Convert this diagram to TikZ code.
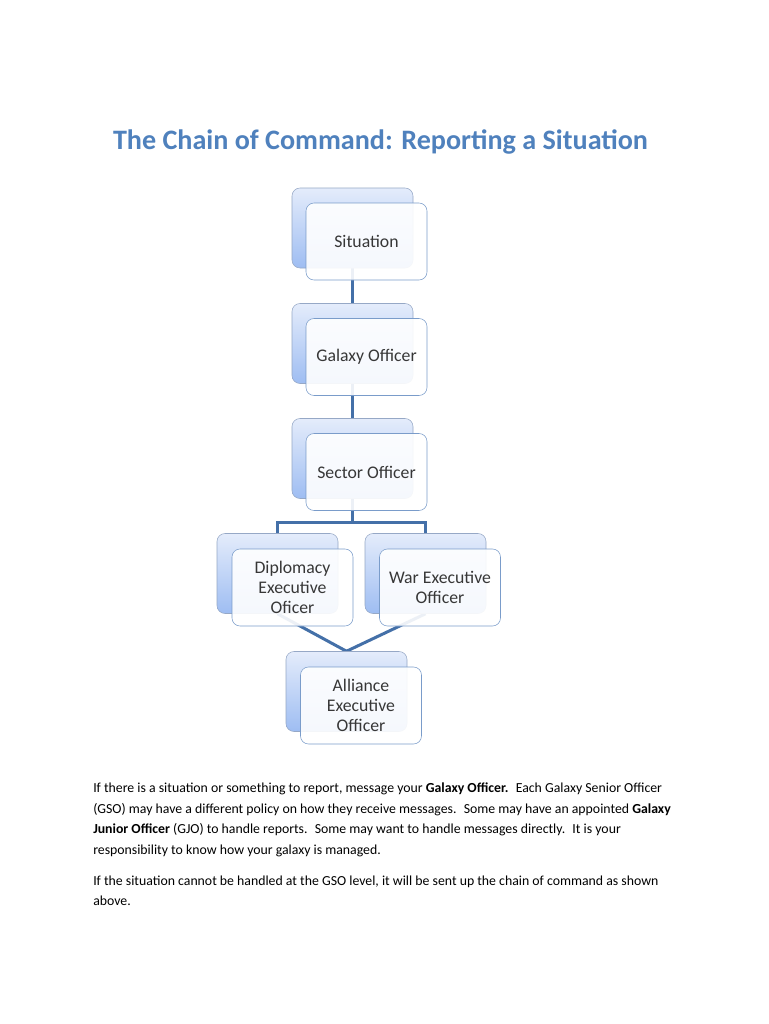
\documentclass[tikz,border=0pt]{standalone}
\usepackage{fontspec}
\setmainfont{Carlito}
\usetikzlibrary{backgrounds}

\definecolor{titleblue}{RGB}{79,129,189}
\definecolor{linkblue}{RGB}{68,112,168}
\definecolor{shadetop}{RGB}{228,236,251}
\definecolor{shadebot}{RGB}{158,189,242}
\definecolor{backedge}{RGB}{150,168,198}
\definecolor{frontedge}{RGB}{122,156,202}
\definecolor{boxtext}{RGB}{55,55,55}

\tikzset{
  backbox/.style={draw=backedge, rounded corners=6pt, top color=shadetop,
    bottom color=shadebot, minimum width=90.75pt, minimum height=60pt, inner sep=0pt},
  frontbox/.style={draw=frontedge, rounded corners=6pt, fill=white, fill opacity=0.9,
    text opacity=1, minimum width=90.75pt, minimum height=57.75pt, inner sep=0pt,
    align=center, text=boxtext, font=\fontsize{13.3}{15}\selectfont},
  link/.style={draw=linkblue, line width=2.25pt},
  body/.style={anchor=base west, inner sep=0pt, font=\fontsize{10.35}{12}\selectfont}
}

\begin{document}
\begin{tikzpicture}[x=0.75pt,y=-0.75pt]
  \useasboundingbox (0,0) rectangle (768,1024);

  \node[text=titleblue, font=\fontsize{21.1}{24}\selectfont\bfseries] (title) at (380.5,142)
    {The Chain of Command: Reporting a Situation};

  % back boxes
  \node[backbox] (sitB) at (352.5,228) {};
  \node[backbox] (galB) at (352.5,343.5) {};
  \node[backbox] (secB) at (352.5,458.5) {};
  \node[backbox] (dipB) at (277.5,573.5) {};
  \node[backbox] (warB) at (425.5,573.5) {};
  \node[backbox] (allB) at (346.5,691.5) {};

  % front boxes
  \node[frontbox] (sit) at (366.5,241.5) {Situation};
  \node[frontbox] (gal) at (366.5,357) {Galaxy Officer};
  \node[frontbox] (sec) at (366.5,472) {Sector Officer};
  \node[frontbox] (dip) at (292.5,587.5) {Diplomacy\\Executive\\Oficer};
  \node[frontbox] (war) at (440,587.5) {War Executive\\Officer};
  \node[frontbox] (all) at (361,705.5) {Alliance\\Executive\\Officer};

  \begin{pgfonlayer}{background}
    \fill[white] (0,0) rectangle (768,1024);
    \draw[link] (sitB.south) -- (galB.north);
    \draw[link] (galB.south) -- (secB.north);
    \draw[link] (secB.south) -- ++(0,24) coordinate (fork);
    \draw[link] (fork) -| (dipB.north);
    \draw[link] (fork) -| (warB.north);
    \draw[link] (dipB.south) -- (allB.north);
    \draw[link] (warB.south) -- (allB.north);
  \end{pgfonlayer}

  % text below the chart
  \node[body] (p1) at (93,792.5) {If there is a situation or something to report, message your \textbf{Galaxy Officer.}~ Each Galaxy Senior Officer};
  \node[body] (p2) at (93,813) {(GSO) may have a different policy on how they receive messages.~ Some may have an appointed \textbf{Galaxy}};
  \node[body] (p3) at (93,833.5) {\textbf{Junior Officer} (GJO) to handle reports.~ Some may want to handle messages directly.~ It is your};
  \node[body] (p4) at (93,854) {responsibility to know how your galaxy is managed.};
  \node[body] (p5) at (93,885) {If the situation cannot be handled at the GSO level, it will be sent up the chain of command as shown};
  \node[body] (p6) at (93,905.5) {above.};
\end{tikzpicture}
\end{document}
